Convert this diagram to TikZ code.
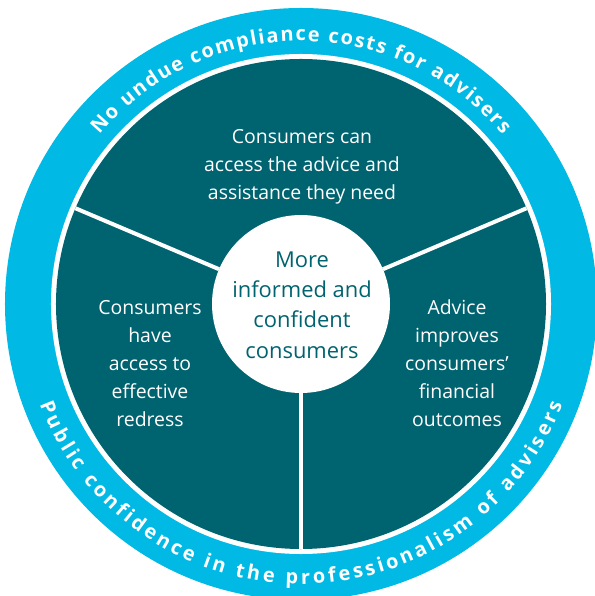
\documentclass[tikz,border=0pt]{standalone}
\usepackage{fontspec}
\setmainfont{Open Sans}
\usetikzlibrary{positioning}
\usetikzlibrary{decorations.text}
\definecolor{ringcyan}{RGB}{0,185,228}
\definecolor{darkteal}{RGB}{0,99,112}
\tikzstyle{disc} = [circle,
inner sep=0pt,
outer sep=0pt]
\tikzstyle{divider} = [draw,
white,
line width=4bp]
\newcommand{\arcfont}{\fontsize{20}{20}\selectfont\bfseries}

\begin{document}
\begin{tikzpicture}[x=1bp, y=1bp,
	goal/.style={text=white, align=center, font=\fontsize{19.5}{28}\selectfont},
	hubtext/.style={text=darkteal, align=center, font=\fontsize{22}{30.5}\selectfont},
	arctext/.style={decorate, decoration={text along path, text color=white,
		text align={fit to path}, text={|\arcfont|#1}}}]
	\useasboundingbox (-301,-292) rectangle (294,304);
	%% Rings
	\node [disc, fill=ringcyan, minimum size=592bp] (Ring) at (0,0) {};
	\node [disc, fill=white, minimum size=500bp] (Border) at (0,0) {};
	\node [disc, fill=darkteal, minimum size=490bp] (Disc) at (0,0) {};
	\node [disc, fill=white, minimum size=178bp] (Hub) at (0,0) {};
	%% Dividers
	\path [divider] (Hub.23) -- (Disc.23);
	\path [divider] (Hub.157) -- (Disc.157);
	\path [divider] (Hub.270) -- (Disc.270);
	%% Texts
	\node [hubtext] (HubText) at (1,-1) {More\\informed and\\confident\\consumers};
	\node [goal] (Access) at (1,137) {Consumers can\\access the advice and\\assistance they need};
	\node [goal] (Redress) at (-151,-59.5) {Consumers\\have\\access to\\effective\\redress};
	\node [goal] (Outcomes) at (156,-59.5) {Advice\\improves\\consumers’\\financial\\outcomes};
	%% Ring texts
	\path [arctext={No undue compliance costs for advisers}] (140:263) arc (140:40:263);
	\path [arctext={Public confidence in the professionalism of advisers}] (201:280) arc (201:339:280);
\end{tikzpicture}
\end{document}
